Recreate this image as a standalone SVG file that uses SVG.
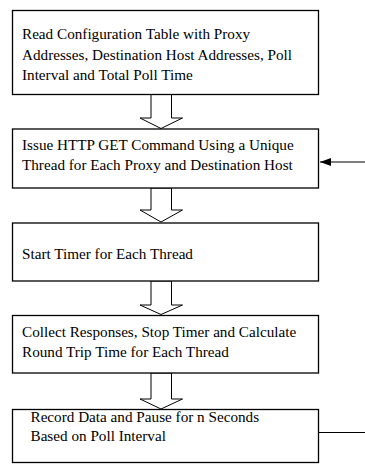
<svg xmlns="http://www.w3.org/2000/svg" width="365" height="464" viewBox="0 0 365 464">
<style>
.box{fill:#fff;stroke:#000;stroke-width:1.3}
.t{font-family:"Liberation Serif","Times New Roman",serif;font-size:15.2px;fill:#000}
.ba{fill:#fff;stroke:#000;stroke-width:1}
.ln{fill:none;stroke:#000;stroke-width:1.2}
</style>
<defs>
<marker id="ah" markerWidth="12" markerHeight="8" refX="11" refY="4" orient="auto" markerUnits="userSpaceOnUse">
<path d="M0,0 L11,4 L0,8 Z" fill="#000"/>
</marker>
</defs>
<rect width="365" height="464" fill="#fff"/>
<g id="connectors">
<path class="ba" d="M151,94.5 L171.5,94.5 L171.5,118 L182.5,118 L161,128.5 L140,118 L151,118 Z"/>
<path class="ba" d="M151,188 L171.5,188 L171.5,210 L182.5,210 L161,222 L140,210 L151,210 Z"/>
<path class="ba" d="M151,281 L171.5,281 L171.5,305 L182.5,305 L161,314.5 L140,305 L151,305 Z"/>
<path class="ba" d="M151,373 L171.5,373 L171.5,399 L182.5,399 L161,409 L140,399 L151,399 Z"/>
<line class="ln" x1="365" y1="162" x2="320" y2="162" marker-end="url(#ah)"/>
<line class="ln" x1="319" y1="432.5" x2="365" y2="432.5"/>
</g>
<g id="n1">
<rect class="box" x="12.5" y="10.5" width="306" height="84"/>
<text class="t" x="22" y="39">Read Configuration Table with Proxy</text>
<text class="t" x="22" y="59.5">Addresses, Destination Host Addresses, Poll</text>
<text class="t" x="22" y="80">Interval and Total Poll Time</text>
</g>
<g id="n2">
<rect class="box" x="12.5" y="129" width="306" height="59"/>
<text class="t" x="22" y="149.5">Issue HTTP GET Command Using a Unique</text>
<text class="t" x="22" y="169.5">Thread for Each Proxy and Destination Host</text>
</g>
<g id="n3">
<rect class="box" x="12.5" y="223" width="306" height="58"/>
<text class="t" x="22" y="259.3">Start Timer for Each Thread</text>
</g>
<g id="n4">
<rect class="box" x="12.5" y="315.5" width="306" height="57.5"/>
<text class="t" x="22" y="336.5">Collect Responses, Stop Timer and Calculate</text>
<text class="t" x="22" y="356.5">Round Trip Time for Each Thread</text>
</g>
<g id="n5">
<rect class="box" x="12.5" y="409.5" width="306" height="53"/>
<text class="t" x="30.5" y="422.3">Record Data and Pause for n Seconds</text>
<text class="t" x="30.5" y="441">Based on Poll Interval</text>
</g>
</svg>
